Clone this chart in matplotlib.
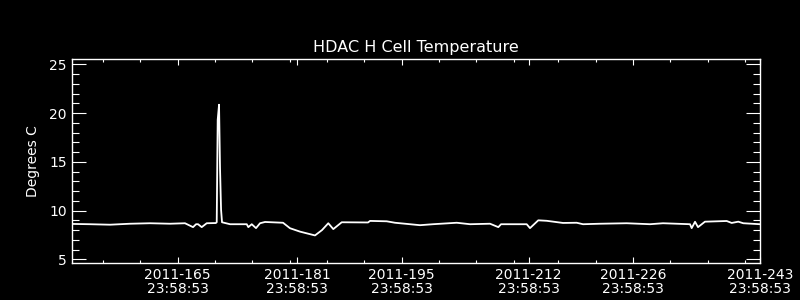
import matplotlib
matplotlib.use("Agg")
import matplotlib.pyplot as plt

# Data: day of year 2011 (fractional) and temperature (deg C)
days = [150.87, 153.28, 155.96, 158.64, 161.32, 164.00, 166.00, 167.08, 167.48, 167.75,
        168.24, 168.91, 170.12, 170.25, 170.38, 170.56, 170.69, 170.83, 170.96, 172.03,
        174.27, 174.48, 174.94, 175.51, 176.05, 176.72, 179.13, 180.06, 181.40, 183.41,
        184.35, 185.19, 185.86, 186.99, 190.51, 190.78, 193.01, 194.12, 197.47, 199.21,
        202.39, 204.17, 206.85, 207.96, 208.32, 211.76, 212.20, 213.31, 214.44, 216.62,
        218.45, 219.30, 221.58, 225.15, 228.27, 230.01, 233.63, 233.85, 234.30, 234.70,
        235.63, 238.54, 239.21, 240.09, 240.76, 243.00]
temps = [8.63, 8.60, 8.55, 8.65, 8.70, 8.65, 8.70, 8.30, 8.60, 8.60,
         8.30, 8.70, 8.72, 8.80, 19.30, 20.86, 14.40, 10.10, 8.80, 8.60,
         8.60, 8.30, 8.60, 8.20, 8.70, 8.83, 8.75, 8.19, 7.84, 7.45,
         8.00, 8.70, 8.10, 8.80, 8.78, 8.94, 8.90, 8.75, 8.50, 8.60,
         8.75, 8.60, 8.65, 8.30, 8.60, 8.60, 8.20, 9.00, 8.95, 8.73,
         8.75, 8.60, 8.65, 8.70, 8.60, 8.70, 8.60, 8.20, 8.85, 8.30,
         8.86, 8.93, 8.73, 8.86, 8.70, 8.60]

major_days = [165, 181, 195, 212, 226, 243]
major_labels = ["2011-165\n23:58:53", "2011-181\n23:58:53", "2011-195\n23:58:53",
                "2011-212\n23:58:53", "2011-226\n23:58:53", "2011-243\n23:58:53"]
minor_days = [155, 160, 170, 175, 180, 185, 190, 200, 205, 210, 216, 221, 231, 236, 241]
y_major = [5, 10, 15, 20, 25]
y_minor = [6, 7, 8, 9, 11, 12, 13, 14, 16, 17, 18, 19, 21, 22, 23, 24]

title = "HDAC H Cell Temperature"
ylabel = "Degrees C"

plt.rcParams['font.family'] = ['DejaVu Sans']
fig = plt.figure(figsize=(8, 3), dpi=100, facecolor='black')
ax = fig.add_axes([0.09, 0.1233, 0.86, 0.68], facecolor='black')

ax.plot(days, temps, color='white', lw=1.3)

ax.set_xlim(150.87, 243.0)
ax.set_ylim(4.62, 25.55)

ax.set_xticks(major_days)
ax.set_xticklabels(major_labels, linespacing=1.0)
ax.set_xticks(minor_days, minor=True)
ax.set_yticks(y_major)
ax.set_yticks(y_minor, minor=True)

for s in ax.spines.values():
    s.set_color('white')
    s.set_linewidth(1.0)

ax.tick_params(axis='x', which='major', direction='in', length=4.3, width=0.8,
               color='white', labelcolor='white', labelsize=10, top=True, pad=3.5)
ax.tick_params(axis='x', which='minor', direction='in', length=2.2, width=0.8,
               color='white', top=True)
ax.tick_params(axis='y', which='major', direction='in', length=10, width=0.8,
               color='white', labelcolor='white', labelsize=10, right=True, pad=3.6)
ax.tick_params(axis='y', which='minor', direction='in', length=5, width=0.8,
               color='white', right=True)

ax.set_title(title, color='white', fontsize=11.5, pad=5)
ax.set_ylabel(ylabel, color='white', fontsize=10, labelpad=7)

fig.savefig("out.png", dpi=100, facecolor='black')
